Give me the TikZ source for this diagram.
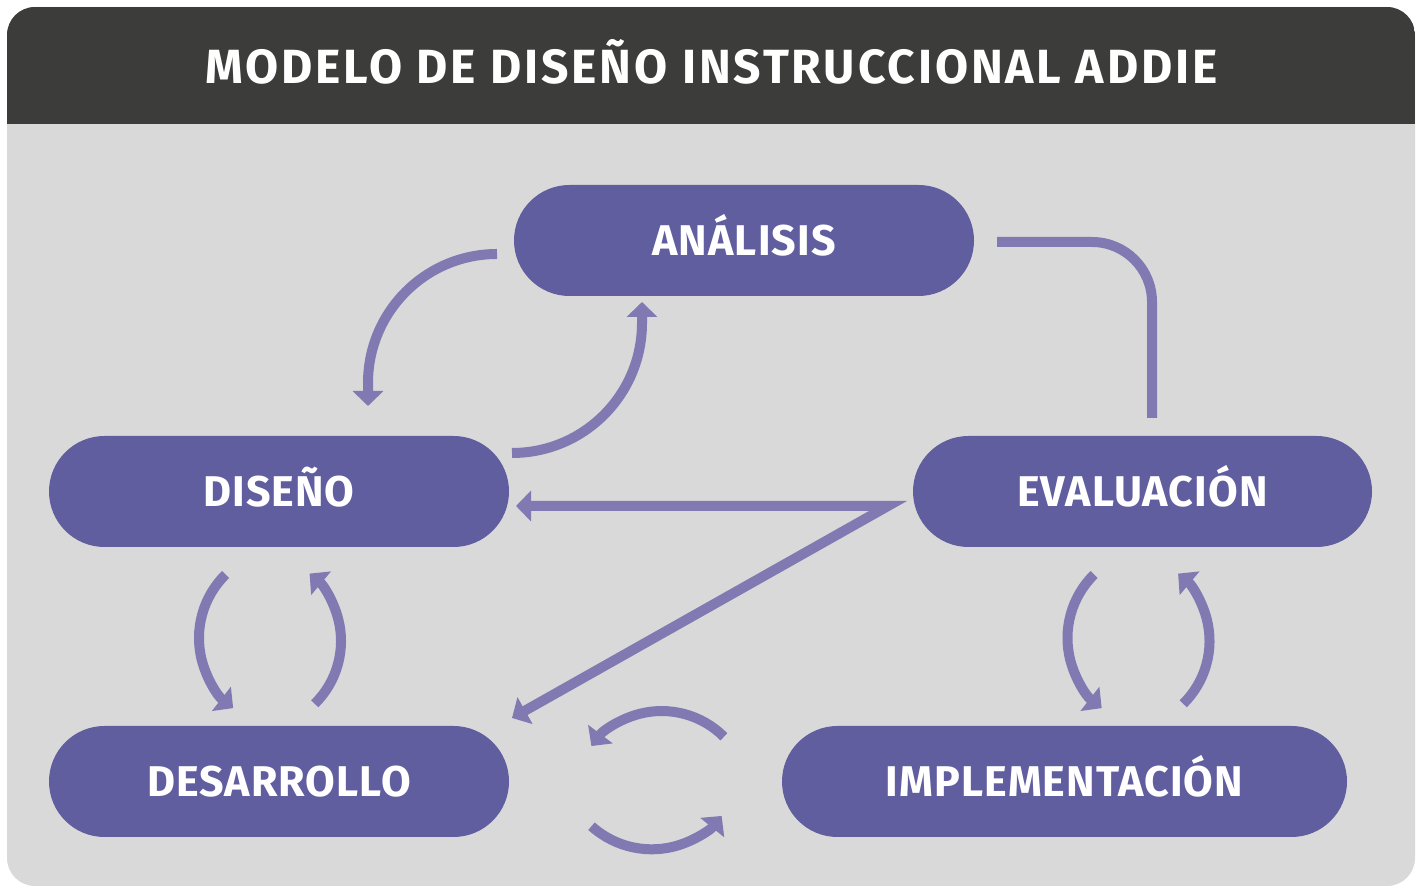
\documentclass[tikz,border=0pt]{standalone}
\usepackage{fontspec}
\setmainfont{Fira Sans}
\newfontfamily\titlefont[LetterSpace=6]{Fira Sans}
\newfontfamily\phasefont[LetterSpace=2.5]{Fira Sans}
\usetikzlibrary{arrows.meta,shapes.misc}
\definecolor{bgc}{HTML}{D9D9D9}
\definecolor{hdr}{HTML}{3C3C3B}
\definecolor{nodec}{HTML}{605E9F}
\definecolor{arr}{HTML}{8179B2}
\begin{document}
\begin{tikzpicture}[x=1pt,y=1pt,
  phase/.style={rounded rectangle, fill=nodec, text=white,
    font=\phasefont\fontsize{43}{43}\selectfont\bfseries, minimum height=111pt,
    inner sep=0pt, text height=29.6pt, text depth=0pt},
  conn/.style={draw=arr, line width=10pt},
  arrowed/.style={-{Triangle[length=15pt,width=30pt]}},
  arrowedboth/.style={{Triangle[length=15pt,width=30pt]}-{Triangle[length=15pt,width=30pt]}}]
\useasboundingbox (0,0) rectangle (1418,888);
% frame
\fill[bgc, rounded corners=28pt] (7,2) rectangle (1415,881);
\begin{scope}
  \clip[rounded corners=28pt] (7,2) rectangle (1415,881);
  \fill[hdr] (7,764) rectangle (1415,881);
\end{scope}
\node[text=white, font=\titlefont\fontsize{48}{48}\selectfont\bfseries, text height=33pt, text depth=0pt, inner sep=0pt]
  (title) at (711.5,821) {MODELO DE DISEÑO INSTRUCCIONAL ADDIE};
% phases
\node[phase, minimum width=460pt] (ana) at (744,647.5) {ANÁLISIS};
\node[phase, minimum width=460pt] (dis) at (279,396.5) {DISEÑO};
\node[phase, minimum width=459pt] (eva) at (1142.5,396.5) {EVALUACIÓN};
\node[phase, minimum width=460pt] (des) at (279,106.5) {DESARROLLO};
\node[phase, minimum width=565pt] (imp) at (1064.5,106.5) {IMPLEMENTACIÓN};
% connector end points
\coordinate (a1s) at (497,634);
\coordinate (a1e) at (368,482);
\coordinate (a2s) at (512,435);
\coordinate (a2e) at (642,586);
\coordinate (l3s) at (997,646);
\coordinate (l3c) at (1152,646);
\coordinate (l3e) at (1152,470);
\coordinate (zD) at (516,382);
\coordinate (zV) at (888,382);
\coordinate (zP) at (512,170);
\coordinate (dl) at (225.6,313.5);
\coordinate (dr) at (314.7,184.2);
\coordinate (el) at (1094.1,313.5);
\coordinate (er) at (1183.2,184.2);
\coordinate (bt) at (723.9,151.2);
\coordinate (bb) at (591.5,61.8);
% connectors
\draw[conn, arrowed] (a1s) arc[start angle=90, end angle=180, radius=129pt] -- (a1e);
\draw[conn, arrowed] (a2s) arc[start angle=270, end angle=360, radius=130pt] -- (a2e);
\draw[conn, rounded corners=60pt] (l3s) -- (l3c) -- (l3e);
\draw[conn, arrowedboth] (zD) -- (zV) -- (zP);
\draw[conn, arrowed] (dl) arc[start angle=134.5, end angle=232, radius=89pt];
\draw[conn, arrowed] (dr) arc[start angle=-45.5, end angle=50, radius=88pt];
\draw[conn, arrowed] (el) arc[start angle=134.5, end angle=232, radius=89pt];
\draw[conn, arrowed] (er) arc[start angle=-45.5, end angle=50, radius=88pt];
\draw[conn, arrowed] (bt) arc[start angle=45, end angle=143, radius=88pt];
\draw[conn, arrowed] (bb) arc[start angle=228, end angle=321, radius=90pt];
\end{tikzpicture}
\end{document}
